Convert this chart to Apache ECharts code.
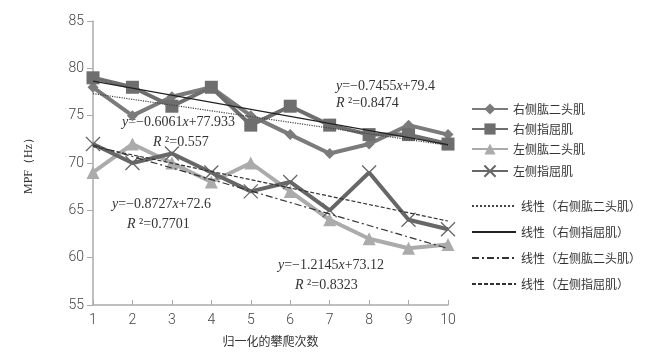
<!DOCTYPE html>
<html>
<head>
<meta charset="utf-8">
<script src="https://cdn.jsdelivr.net/npm/echarts@6/dist/echarts.min.js"></script>
<style>html,body{margin:0;padding:0;background:#fff;}#c{width:660px;height:357px;}</style>
</head>
<body>
<div id="c"></div>
<script>
const xValues = [1, 2, 3, 4, 5, 6, 7, 8, 9, 10];
const rightBiceps = [78, 75, 77, 78, 75, 73, 71, 72, 74, 73];
const rightFlexor = [79, 78, 76, 78, 74, 76, 74, 73, 73, 72];
const leftBiceps = [69, 72, 70, 68, 70, 67, 64, 62, 61, 61.4];
const leftFlexor = [72, 70, 71, 69, 67, 68, 65, 69, 64, 63];
// trend line endpoints (x=1 and x=10)
const trendX = [1, 10];
const trendRightBiceps = [77.33, 71.87];
const trendRightFlexor = [78.65, 71.95];
const trendLeftBiceps = [71.9, 60.97];
const trendLeftFlexor = [71.73, 63.87];
const seriesNames = ['右侧肱二头肌', '右侧指屈肌', '左侧肱二头肌', '左侧指屈肌'];
const trendNames = ['线性（右侧肱二头肌）', '线性（右侧指屈肌）', '线性（左侧肱二头肌）', '线性（左侧指屈肌）'];
const eqTexts = [
  ['{i|y}=−0.6061{i|x}+77.933', '{i|R} ²=0.557'],
  ['{i|y}=−0.7455{i|x}+79.4', '{i|R} ²=0.8474'],
  ['{i|y}=−0.8727{i|x}+72.6', '{i|R} ²=0.7701'],
  ['{i|y}=−1.2145{i|x}+73.12', '{i|R} ²=0.8323']
];

const pairs = (ys) => ys.map((v, i) => [xValues[i], v]);
const tpairs = (ys) => ys.map((v, i) => [trendX[i], v]);

const chart = echarts.init(document.getElementById('c'));
const cjk = '"Noto Sans CJK SC", sans-serif';
const serif = '"Liberation Serif", "DejaVu Serif", serif';

function mainSeries(name, data, color, symbol, size, extra) {
  return Object.assign({
    name, type: 'line', data, symbol, symbolSize: size, showSymbol: true,
    lineStyle: { color, width: 4 },
    itemStyle: { color, borderColor: color, borderWidth: 0 },
    z: 3, animation: false
  }, extra || {});
}
function trendSeries(name, data, type, color, width) {
  return {
    name, type: 'line', data, symbol: 'none', showSymbol: false,
    lineStyle: { color, width, type },
    itemStyle: { color },
    z: 4, animation: false
  };
}

const eqStyle = (t, x, y) => ({
  type: 'text', left: x, top: y,
  style: {
    text: t, fill: '#333', font: '14px ' + serif,
    rich: { i: { fontStyle: 'italic', fontFamily: serif, fontSize: 14, fill: '#333' } }
  }
});

const option = {
  backgroundColor: '#fff',
  animation: false,
  grid: { left: 93, right: 212, top: 21, bottom: 52, containLabel: false },
  xAxis: {
    type: 'value', min: 1, max: 10, interval: 1,
    name: '归一化的攀爬次数', nameLocation: 'middle', nameGap: 30,
    nameTextStyle: { fontFamily: cjk, fontSize: 12, color: '#333' },
    axisLine: { lineStyle: { color: '#aaa', width: 1.5 } },
    axisTick: { inside: true, length: 5, lineStyle: { color: '#aaa' } },
    axisLabel: { color: '#444', fontSize: 14, fontFamily: 'Roboto, sans-serif', fontWeight: 300, margin: 8 },
    splitLine: { show: false }
  },
  yAxis: {
    type: 'value', min: 55, max: 85, interval: 5,
    name: 'MPF（Hz）', nameLocation: 'middle', nameGap: 58, nameRotate: 90,
    nameTextStyle: { fontFamily: serif, fontSize: 12, color: '#333' },
    axisLine: { show: true, lineStyle: { color: '#aaa', width: 1.5 } },
    axisTick: { show: true, length: 6, lineStyle: { color: '#aaa' } },
    axisLabel: { color: '#444', fontSize: 14, fontFamily: 'Roboto, sans-serif', fontWeight: 300, margin: 9 },
    splitLine: { show: false }
  },
  legend: [
    {
      data: seriesNames, orient: 'vertical', left: 466, top: 98,
      itemWidth: 36, itemHeight: 14, itemGap: 8,
      textStyle: { fontFamily: cjk, fontSize: 12, color: '#333' }
    },
    {
      data: trendNames, orient: 'vertical', left: 466, top: 195,
      itemWidth: 44, itemHeight: 10, itemGap: 14,
      itemStyle: { opacity: 0 },
      textStyle: { fontFamily: cjk, fontSize: 12, color: '#333' }
    }
  ],
  series: [
    mainSeries(seriesNames[0], pairs(rightBiceps), '#7b7b7b', 'diamond', 11),
    mainSeries(seriesNames[1], pairs(rightFlexor), '#6e6e6e', 'rect', 13),
    mainSeries(seriesNames[2], pairs(leftBiceps), '#ababab', 'triangle', 13),
    mainSeries(seriesNames[3], pairs(leftFlexor), '#676767', 'path://M0,0L10,10M10,0L0,10', 14,
      { itemStyle: { color: 'none', borderColor: '#676767', borderWidth: 1.3 } }),
    trendSeries(trendNames[0], tpairs(trendRightBiceps), 'dotted', '#444', 1.2),
    trendSeries(trendNames[1], tpairs(trendRightFlexor), 'solid', '#222', 1.2),
    trendSeries(trendNames[2], tpairs(trendLeftBiceps), [7, 3, 2, 3], '#333', 1.2),
    trendSeries(trendNames[3], tpairs(trendLeftFlexor), [4, 2], '#333', 1.2)
  ],
  graphic: [
    eqStyle(eqTexts[0][0], 122, 115), eqStyle(eqTexts[0][1], 153, 135),
    eqStyle(eqTexts[1][0], 336, 79), eqStyle(eqTexts[1][1], 336, 96),
    eqStyle(eqTexts[2][0], 112, 197), eqStyle(eqTexts[2][1], 127, 217),
    eqStyle(eqTexts[3][0], 278, 258), eqStyle(eqTexts[3][1], 295, 278)
  ]
};
chart.setOption(option);
</script>
</body>
</html>
